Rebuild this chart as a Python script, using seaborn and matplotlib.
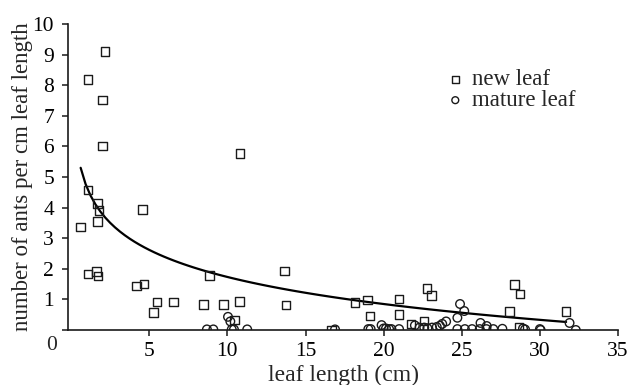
import matplotlib
matplotlib.use("Agg")
import matplotlib.pyplot as plt
import seaborn as sns
import pandas as pd

# new leaf (squares)
new_x = [0.61, 1.07, 1.07, 1.07, 1.63, 1.70, 1.72, 1.78, 1.70, 2.00, 2.00, 2.16,
         4.17, 4.58, 4.66, 5.28, 5.49, 6.54, 8.46, 8.84, 9.76, 10.45, 10.79, 10.81,
         13.67, 13.75, 16.68, 18.17, 18.96, 19.13, 20.99, 20.99, 21.75, 22.59, 22.78,
         23.08, 28.05, 28.37, 28.73, 28.65, 31.68]
new_y = [3.36, 4.58, 8.19, 1.83, 1.91, 4.14, 1.76, 3.90, 3.54, 7.52, 6.01, 9.11,
         1.44, 3.94, 1.51, 0.57, 0.92, 0.92, 0.84, 1.79, 0.84, 0.32, 0.93, 5.77,
         1.93, 0.82, 0.00, 0.89, 0.98, 0.46, 1.02, 0.50, 0.20, 0.30, 1.35,
         1.12, 0.61, 1.49, 1.18, 0.08, 0.61]

# mature leaf (circles)
mat_x = [8.69, 9.10, 10.04, 10.19, 10.28, 10.42, 11.27, 16.89, 19.02, 19.17, 19.87,
         20.00, 20.15, 20.35, 20.50, 20.99, 22.00, 22.30, 22.60, 22.80, 23.10, 23.40,
         23.60, 23.75, 24.00, 24.72, 24.89, 25.16, 24.72, 25.20, 25.66, 26.15, 26.20,
         26.60, 26.58, 27.02, 27.60, 28.92, 29.05, 30.00, 30.05, 31.90, 32.30]
mat_y = [0.02, 0.02, 0.43, 0.28, 0.02, 0.02, 0.02, 0.02, 0.03, 0.03, 0.16,
         0.05, 0.05, 0.03, 0.03, 0.03, 0.15, 0.08, 0.08, 0.06, 0.08, 0.10,
         0.14, 0.20, 0.28, 0.40, 0.85, 0.62, 0.03, 0.03, 0.03, 0.03, 0.23,
         0.13, 0.03, 0.03, 0.04, 0.05, 0.02, 0.03, 0.00, 0.23, 0.00]

x_ticks = [5, 10, 15, 20, 25, 30, 35]
y_ticks = [1, 2, 3, 4, 5, 6, 7, 8, 9, 10]
series_labels = ["new leaf", "mature leaf"]
x_title = "leaf length (cm)"
y_title = "number of ants per cm leaf length"

new_df = pd.DataFrame({"x": new_x, "y": new_y})
mat_df = pd.DataFrame({"x": mat_x, "y": mat_y})

sns.set_style("ticks")
plt.rcParams["font.family"] = ["Liberation Serif", "DejaVu Serif"]

fig = plt.figure(figsize=(6.32, 3.85), dpi=100)
ax = fig.add_axes([68 / 632, 1 - 330 / 385, 550 / 632, 306 / 385])

ink = "#1a1a1a"
sns.scatterplot(data=new_df, x="x", y="y", marker="s", s=38, facecolor="none",
                edgecolor=ink, linewidth=1.0, ax=ax, label=series_labels[0], zorder=3)
sns.scatterplot(data=mat_df, x="x", y="y", marker="o", s=38, facecolor="none",
                edgecolor=ink, linewidth=1.0, ax=ax, label=series_labels[1], zorder=3)
sns.regplot(data=new_df, x="x", y="y", logx=True, scatter=False, ci=None,
            color="black", line_kws={"linewidth": 1.6}, ax=ax)

ax.set_xlim(-0.2, 35)
ax.set_ylim(0, 10)
ax.set_xticks(x_ticks)
ax.set_yticks([0] + y_ticks)
ax.set_yticklabels([""] + [str(v) for v in y_ticks])
for s in ["top", "right"]:
    ax.spines[s].set_visible(False)
for s in ["left", "bottom"]:
    ax.spines[s].set_linewidth(1.2)
    ax.spines[s].set_color(ink)
ax.tick_params(axis="both", direction="out", length=4.5, width=1.1, colors=ink,
               labelsize=15.5, labelcolor="black")
ax.tick_params(axis="x", pad=4)
ax.tick_params(axis="y", pad=5.5)
ax.annotate("0", xy=(0, 0), xycoords="axes fraction", xytext=(-8, -4.5),
            textcoords="offset points", ha="right", va="top", fontsize=15.5)

ax.set_xlabel(x_title, fontsize=17)
ax.set_ylabel(y_title, fontsize=16.5)
ax.xaxis.set_label_coords(0.5, -0.115)
ax.yaxis.set_label_coords(-0.064, 0.5)

leg = ax.legend(loc="upper left", bbox_to_anchor=(0.65, 0.905), frameon=False,
                fontsize=16.5, markerscale=0.8, handletextpad=0.15,
                labelspacing=0.0, borderpad=0.2, handlelength=1.2)

fig.savefig("out.png", dpi=100)
